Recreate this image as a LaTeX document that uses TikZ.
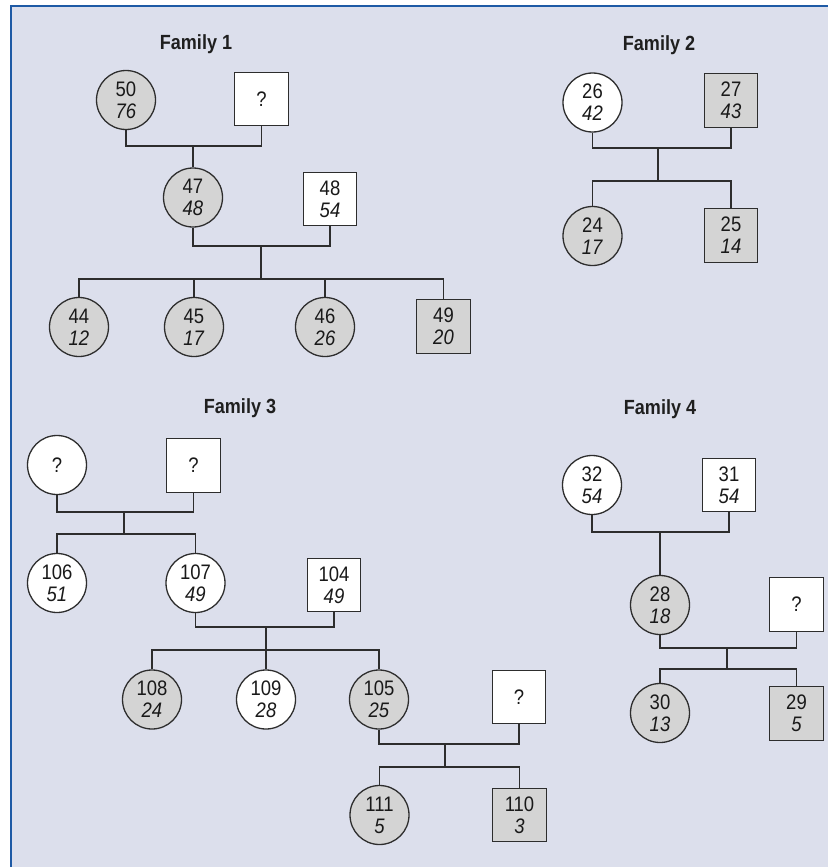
\documentclass[tikz,border=0pt]{standalone}
\usepackage{fontspec}
\setmainfont{Liberation Sans}[FakeStretch=0.88]
\newfontfamily\ttlfont{Liberation Sans}[FakeStretch=0.88]
\definecolor{bgc}{RGB}{220,223,236}
\definecolor{edgeblue}{RGB}{30,90,165}
\definecolor{lnc}{RGB}{45,45,45}
\definecolor{aff}{RGB}{212,212,212}
\begin{document}
\begin{tikzpicture}[x=1pt,y=-1pt,
  person/.style={draw=lnc, line width=1.3pt, inner sep=0pt, align=center, text=black!90,
    font=\fontsize{21}{22}\selectfont},
  fem/.style={person, circle, minimum size=59pt},
  mal/.style={person, rectangle, minimum size=53.5pt},
  un/.style={fill=white},
  af/.style={fill=aff},
  link/.style={draw=lnc, line width=1.3pt},
  ttl/.style={font=\ttlfont\fontsize{20.5}{22}\selectfont\bfseries, text=black!88}]
\useasboundingbox (0,0) rectangle (828,867);
\fill[bgc] (11,6) rectangle (828,867);
\draw[edgeblue, line width=2pt] (11,867) -- (11,6) -- (828,6);

% Family 1
\node[ttl] (t1) at (196,44) {Family 1};
\node[fem,af] (n50) at (126,100) {50\\\textit{76}};
\node[mal,un] (q1) at (261.5,99) {?};
\coordinate (m1) at (193,146);
\node[fem,af] (n47) at (193,197.5) {47\\\textit{48}};
\node[mal,un] (n48) at (330,199) {48\\\textit{54}};
\coordinate (m2) at (261,246);
\coordinate (s2) at (261,279);
\node[fem,af] (n44) at (79,327) {44\\\textit{12}};
\node[fem,af] (n45) at (194,327) {45\\\textit{17}};
\node[fem,af] (n46) at (325,327) {46\\\textit{26}};
\node[mal,af] (n49) at (443.5,326.5) {49\\\textit{20}};
\draw[link] (n50.south) |- (m1) -| (q1.south);
\draw[link] (m1) -- (n47.north);
\draw[link] (n47.south) |- (m2) -| (n48.south);
\draw[link] (m2) -- (s2);
\draw[link] (n44.north) |- (s2) -| (n49.north);
\draw[link] (n45.north) -- (n45.north |- s2);
\draw[link] (n46.north) -- (n46.north |- s2);

% Family 2
\node[ttl] (t2) at (659,45) {Family 2};
\node[fem,un] (n26) at (592.5,102.5) {26\\\textit{42}};
\node[mal,af] (n27) at (731,100.5) {27\\\textit{43}};
\coordinate (m3) at (658,148);
\coordinate (s3) at (658,181);
\node[fem,af] (n24) at (592.5,236) {24\\\textit{17}};
\node[mal,af] (n25) at (731,235.5) {25\\\textit{14}};
\draw[link] (n26.south) |- (m3) -| (n27.south);
\draw[link] (m3) -- (s3);
\draw[link] (n24.north) |- (s3) -| (n25.north);

% Family 3
\node[ttl] (t3) at (240,408) {Family 3};
\node[fem,un] (qa) at (57,465) {?};
\node[mal,un] (qb) at (193.5,465.5) {?};
\coordinate (m4) at (124,512);
\coordinate (s4) at (124,534);
\node[fem,un] (n106) at (57,583) {106\\\textit{51}};
\node[fem,un] (n107) at (195.5,583) {107\\\textit{49}};
\node[mal,un] (n104) at (334,585) {104\\\textit{49}};
\coordinate (m5) at (266,627);
\coordinate (s5) at (266,650);
\node[fem,af] (n108) at (152,699.5) {108\\\textit{24}};
\node[fem,un] (n109) at (266,699.5) {109\\\textit{28}};
\node[fem,af] (n105) at (379,699.5) {105\\\textit{25}};
\node[mal,un] (qc) at (519,697) {?};
\coordinate (m6) at (445,744);
\coordinate (s6) at (445,767);
\node[fem,af] (n111) at (379.5,815) {111\\\textit{5}};
\node[mal,af] (n110) at (519.5,815) {110\\\textit{3}};
\draw[link] (qa.south) |- (m4) -| (qb.south);
\draw[link] (m4) -- (s4);
\draw[link] (n106.north) |- (s4) -| (n107.north);
\draw[link] (n107.south) |- (m5) -| (n104.south);
\draw[link] (m5) -- (s5);
\draw[link] (n108.north) |- (s5) -| (n105.north);
\draw[link] (n109.north) -- (n109.north |- s5);
\draw[link] (n105.south) |- (m6) -| (qc.south);
\draw[link] (m6) -- (s6);
\draw[link] (n111.north) |- (s6) -| (n110.north);

% Family 4
\node[ttl] (t4) at (660,409) {Family 4};
\node[fem,un] (n32) at (592,485) {32\\\textit{54}};
\node[mal,un] (n31) at (729,485) {31\\\textit{54}};
\coordinate (m7) at (660,532);
\node[fem,af] (n28) at (660,605) {28\\\textit{18}};
\node[mal,un] (qd) at (796.5,604.5) {?};
\coordinate (m8) at (727,648);
\coordinate (s8) at (727,669);
\node[fem,af] (n30) at (660,713) {30\\\textit{13}};
\node[mal,af] (n29) at (796.5,713.5) {29\\\textit{5}};
\draw[link] (n32.south) |- (m7) -| (n31.south);
\draw[link] (m7) -- (n28.north);
\draw[link] (n28.south) |- (m8) -| (qd.south);
\draw[link] (m8) -- (s8);
\draw[link] (n30.north) |- (s8) -| (n29.north);
\end{tikzpicture}
\end{document}
